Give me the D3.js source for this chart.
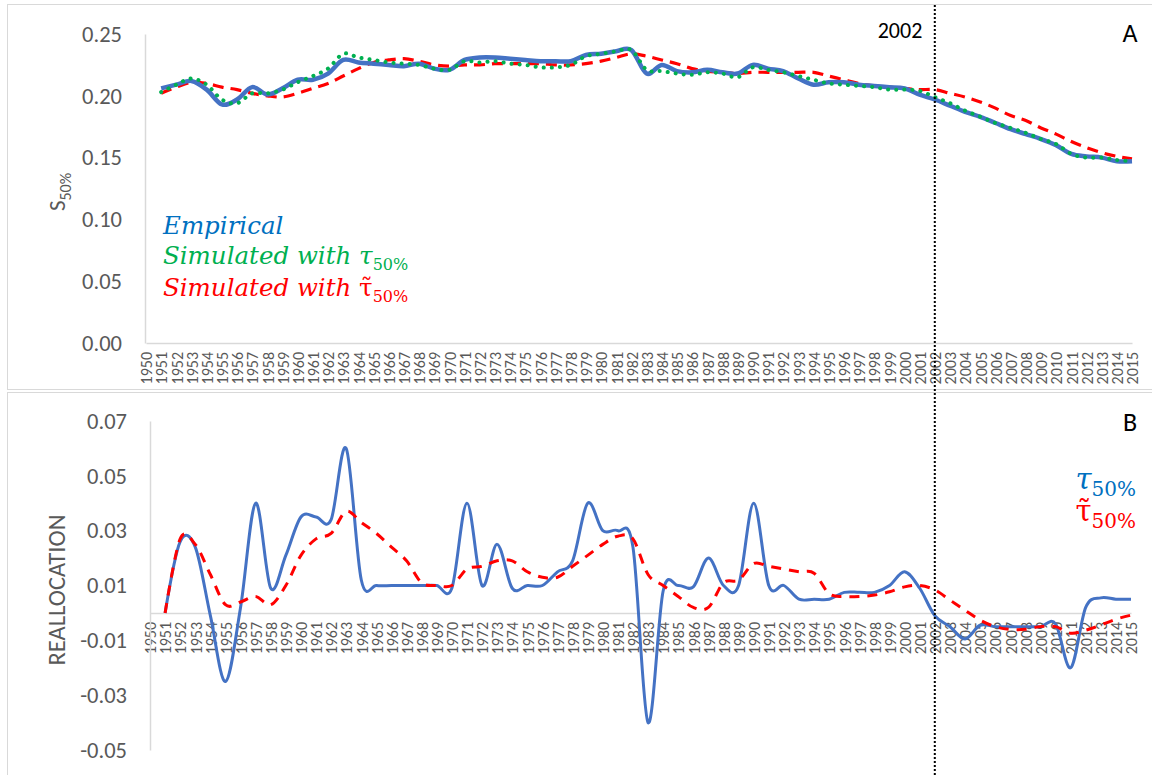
<!DOCTYPE html>
<html>
<head>
<meta charset="utf-8">
<script src="https://cdn.jsdelivr.net/npm/d3@7"></script>
<style>
  body { margin: 0; background: #fff; }
  .tick text { fill: #595959; font-family: Carlito, Lato, sans-serif; }
  .axis path { stroke: #d9d9d9; stroke-width: 1.5; }
</style>
</head>
<body>
<svg id="chart" width="1152" height="775"></svg>
<script>
// categories on the x axis (1950 has no data)
var years = d3.range(1950, 2016);
var dataYears = d3.range(1951, 2016);

// panel A: S50%
var empirical = [0.206, 0.209, 0.212, 0.205, 0.193, 0.197, 0.207, 0.201, 0.206, 0.213,
  0.213, 0.218, 0.229, 0.227, 0.226, 0.225, 0.224, 0.226, 0.222, 0.221,
  0.229, 0.231, 0.231, 0.230, 0.229, 0.228, 0.228, 0.228, 0.233, 0.234,
  0.236, 0.237, 0.218, 0.225, 0.220, 0.219, 0.221, 0.219, 0.218, 0.225,
  0.222, 0.220, 0.214, 0.209, 0.211, 0.211, 0.209, 0.208, 0.207, 0.206,
  0.201, 0.197, 0.192, 0.187, 0.183, 0.178, 0.173, 0.169, 0.165, 0.160,
  0.153, 0.151, 0.150, 0.147, 0.147];
var simTau = [0.203, 0.209, 0.214, 0.209, 0.197, 0.194, 0.202, 0.202, 0.205, 0.211,
  0.216, 0.222, 0.234, 0.231, 0.229, 0.227, 0.226, 0.225, 0.222, 0.221,
  0.228, 0.227, 0.228, 0.226, 0.225, 0.223, 0.223, 0.225, 0.232, 0.234,
  0.236, 0.237, 0.221, 0.220, 0.218, 0.217, 0.219, 0.218, 0.215, 0.223,
  0.221, 0.219, 0.216, 0.213, 0.210, 0.209, 0.208, 0.207, 0.205, 0.205,
  0.204, 0.199, 0.194, 0.188, 0.183, 0.178, 0.174, 0.170, 0.165, 0.161,
  0.153, 0.150, 0.150, 0.148, 0.147];
var simTauTilde = [0.202, 0.207, 0.211, 0.210, 0.207, 0.205, 0.202, 0.200, 0.199, 0.202,
  0.206, 0.210, 0.216, 0.222, 0.227, 0.229, 0.230, 0.228, 0.225, 0.224,
  0.225, 0.225, 0.226, 0.226, 0.226, 0.226, 0.225, 0.225, 0.226, 0.228,
  0.231, 0.234, 0.232, 0.229, 0.226, 0.222, 0.220, 0.219, 0.218, 0.219,
  0.219, 0.219, 0.219, 0.219, 0.216, 0.213, 0.210, 0.208, 0.207, 0.206,
  0.205, 0.205, 0.202, 0.199, 0.195, 0.190, 0.184, 0.180, 0.174, 0.169,
  0.163, 0.158, 0.154, 0.151, 0.149];

// panel B: reallocation
var reallocTau = [0, 0.026, 0.024, -0.001, -0.025, 0.002, 0.040, 0.009, 0.021, 0.035,
  0.035, 0.034, 0.060, 0.012, 0.010, 0.010, 0.010, 0.010, 0.010, 0.009,
  0.040, 0.010, 0.025, 0.009, 0.010, 0.010, 0.015, 0.019, 0.040, 0.030,
  0.030, 0.024, -0.040, 0.008, 0.010, 0.0095, 0.020, 0.010, 0.010, 0.040,
  0.010, 0.010, 0.005, 0.005, 0.005, 0.0075, 0.0075, 0.0075, 0.010, 0.015,
  0.009, -0.001, -0.005, -0.0095, -0.0045, -0.005, -0.005, -0.005, -0.005, -0.004,
  -0.020, 0.002, 0.0055, 0.005, 0.005];
var reallocTauTilde = [0, 0.027, 0.025, 0.014, 0.003, 0.004, 0.006, 0.003, 0.010, 0.021,
  0.027, 0.029, 0.037, 0.033, 0.029, 0.024, 0.019, 0.011, 0.010, 0.010,
  0.016, 0.017, 0.019, 0.019, 0.015, 0.013, 0.013, 0.017, 0.021, 0.025,
  0.028, 0.027, 0.014, 0.010, 0.006, 0.002, 0.002, 0.011, 0.012, 0.018,
  0.017, 0.016, 0.015, 0.0145, 0.007, 0.006, 0.006, 0.0065, 0.0077, 0.0095,
  0.010, 0.0084, 0.0047, 0.001, -0.0026, -0.005, -0.006, -0.006, -0.005, -0.005,
  -0.0074, -0.0063, -0.0044, -0.0023, -0.0008];

var ticksA = [0, 0.05, 0.10, 0.15, 0.20, 0.25];
var ticksB = [-0.05, -0.03, -0.01, 0.01, 0.03, 0.05, 0.07];
var markYear = 2002;

var svg = d3.select('#chart');
var curve = d3.curveCatmullRom.alpha(0);
var uiFont = 'Carlito, Lato, sans-serif';

// chart frames
svg.append('rect').attr('x', 7.5).attr('y', 4.5).attr('width', 1160).attr('height', 385)
  .attr('fill', 'none').attr('stroke', '#d9d9d9');
svg.append('rect').attr('x', 7.5).attr('y', 392.5).attr('width', 1160).attr('height', 400)
  .attr('fill', 'none').attr('stroke', '#d9d9d9');

function yearAxis (g, x) {
  g.attr('class', 'axis')
    .call(d3.axisBottom(x).tickSize(0))
    .call(s => s.selectAll('text')
      .attr('transform', 'rotate(-90)')
      .attr('x', -9).attr('y', 0).attr('dy', '0.36em')
      .attr('text-anchor', 'end')
      .style('font-size', '16px'));
}

function valueAxis (g, y, ticks) {
  g.attr('class', 'axis')
    .call(d3.axisLeft(y).tickValues(ticks).tickSize(0).tickPadding(23)
      .tickFormat(d => d.toFixed(2)))
    .call(s => s.selectAll('text').style('font-size', '22.5px'));
}

// ---------- panel A ----------
var xA = d3.scalePoint().domain(years).range([146, 1132]);
var yA = d3.scaleLinear().domain([0, 0.25]).range([343, 34]);

svg.append('g').attr('transform', 'translate(0,' + yA(0) + ')').call(yearAxis, xA);
svg.append('g').attr('transform', 'translate(145,0)').call(valueAxis, yA, ticksA);

var lineA = d3.line().x((d, i) => xA(dataYears[i])).y(d => yA(d)).curve(curve);

svg.append('path').datum(simTauTilde).attr('d', lineA)
  .attr('fill', 'none').attr('stroke', '#ff0000').attr('stroke-width', 3.2)
  .attr('stroke-dasharray', '11 7');
svg.append('path').datum(empirical).attr('d', lineA)
  .attr('fill', 'none').attr('stroke', '#4472c4').attr('stroke-width', 4.5);
svg.append('path').datum(simTau).attr('d', lineA)
  .attr('fill', 'none').attr('stroke', '#00b050').attr('stroke-width', 4)
  .attr('stroke-linecap', 'round').attr('stroke-dasharray', '0.1 8');

svg.append('text').attr('transform', 'translate(65,192) rotate(-90)')
  .attr('text-anchor', 'middle').attr('fill', '#595959')
  .style('font-family', uiFont).style('font-size', '23px')
  .call(t => {
    t.append('tspan').text('S');
    t.append('tspan').attr('dy', 6).style('font-size', '16px').text('50%');
  });

var legendA = svg.append('g').style('font-family', '"DejaVu Serif", serif').style('font-size', '24.5px');
legendA.append('text').attr('x', 163).attr('y', 234).attr('fill', '#0070c0')
  .style('font-style', 'italic').text('Empirical');
legendA.append('text').attr('x', 163).attr('y', 264).attr('fill', '#00b050')
  .call(t => {
    t.append('tspan').style('font-style', 'italic').text('Simulated with τ');
    t.append('tspan').attr('dy', 6).style('font-size', '16px').text('50%');
  });
legendA.append('text').attr('x', 163).attr('y', 296).attr('fill', '#ff0000')
  .call(t => {
    t.append('tspan').style('font-style', 'italic').text('Simulated with ');
    t.append('tspan').text('τ\u0303');
    t.append('tspan').attr('dy', 6).style('font-size', '16px').text('50%');
  });

svg.append('text').attr('x', 900).attr('y', 38).attr('text-anchor', 'middle')
  .style('font-family', uiFont).style('font-size', '22px').text('2002');
svg.append('text').attr('x', 1130).attr('y', 42).attr('text-anchor', 'middle')
  .style('font-family', uiFont).style('font-size', '26px').text('A');

// ---------- panel B ----------
var xB = d3.scalePoint().domain(years).range([150, 1131]);
var yB = d3.scaleLinear().domain([-0.05, 0.07]).range([750, 421]);

svg.append('g').attr('transform', 'translate(0,' + yB(0) + ')').call(yearAxis, xB);
svg.append('g').attr('transform', 'translate(150,0)').call(valueAxis, yB, ticksB);

var lineB = d3.line().x((d, i) => xB(dataYears[i])).y(d => yB(d)).curve(curve);

svg.append('path').datum(reallocTau).attr('d', lineB)
  .attr('fill', 'none').attr('stroke', '#4472c4').attr('stroke-width', 3);
svg.append('path').datum(reallocTauTilde).attr('d', lineB)
  .attr('fill', 'none').attr('stroke', '#ff0000').attr('stroke-width', 3)
  .attr('stroke-dasharray', '10 8');

svg.append('text').attr('transform', 'translate(65,590) rotate(-90)')
  .attr('text-anchor', 'middle').attr('fill', '#595959')
  .style('font-family', uiFont).style('font-size', '24.5px')
  .text('REALLOCATION');

svg.append('text').attr('x', 1130).attr('y', 431).attr('text-anchor', 'middle')
  .style('font-family', uiFont).style('font-size', '26px').text('B');

var legendB = svg.append('g').style('font-family', '"DejaVu Serif", serif').attr('text-anchor', 'end');
legendB.append('text').attr('x', 1136).attr('y', 489).attr('fill', '#0070c0')
  .call(t => {
    t.append('tspan').style('font-style', 'italic').style('font-size', '29px').text('τ');
    t.append('tspan').attr('dy', 7).style('font-size', '20px').text('50%');
  });
legendB.append('text').attr('x', 1136).attr('y', 521).attr('fill', '#ff0000')
  .call(t => {
    t.append('tspan').style('font-size', '29px').text('τ\u0303');
    t.append('tspan').attr('dy', 7).style('font-size', '20px').text('50%');
  });

// 2002 marker
svg.append('line')
  .attr('x1', xA(markYear)).attr('x2', xA(markYear))
  .attr('y1', 5).attr('y2', 775)
  .attr('stroke', '#000').attr('stroke-width', 2).attr('stroke-dasharray', '2 2');
</script>
</body>
</html>
